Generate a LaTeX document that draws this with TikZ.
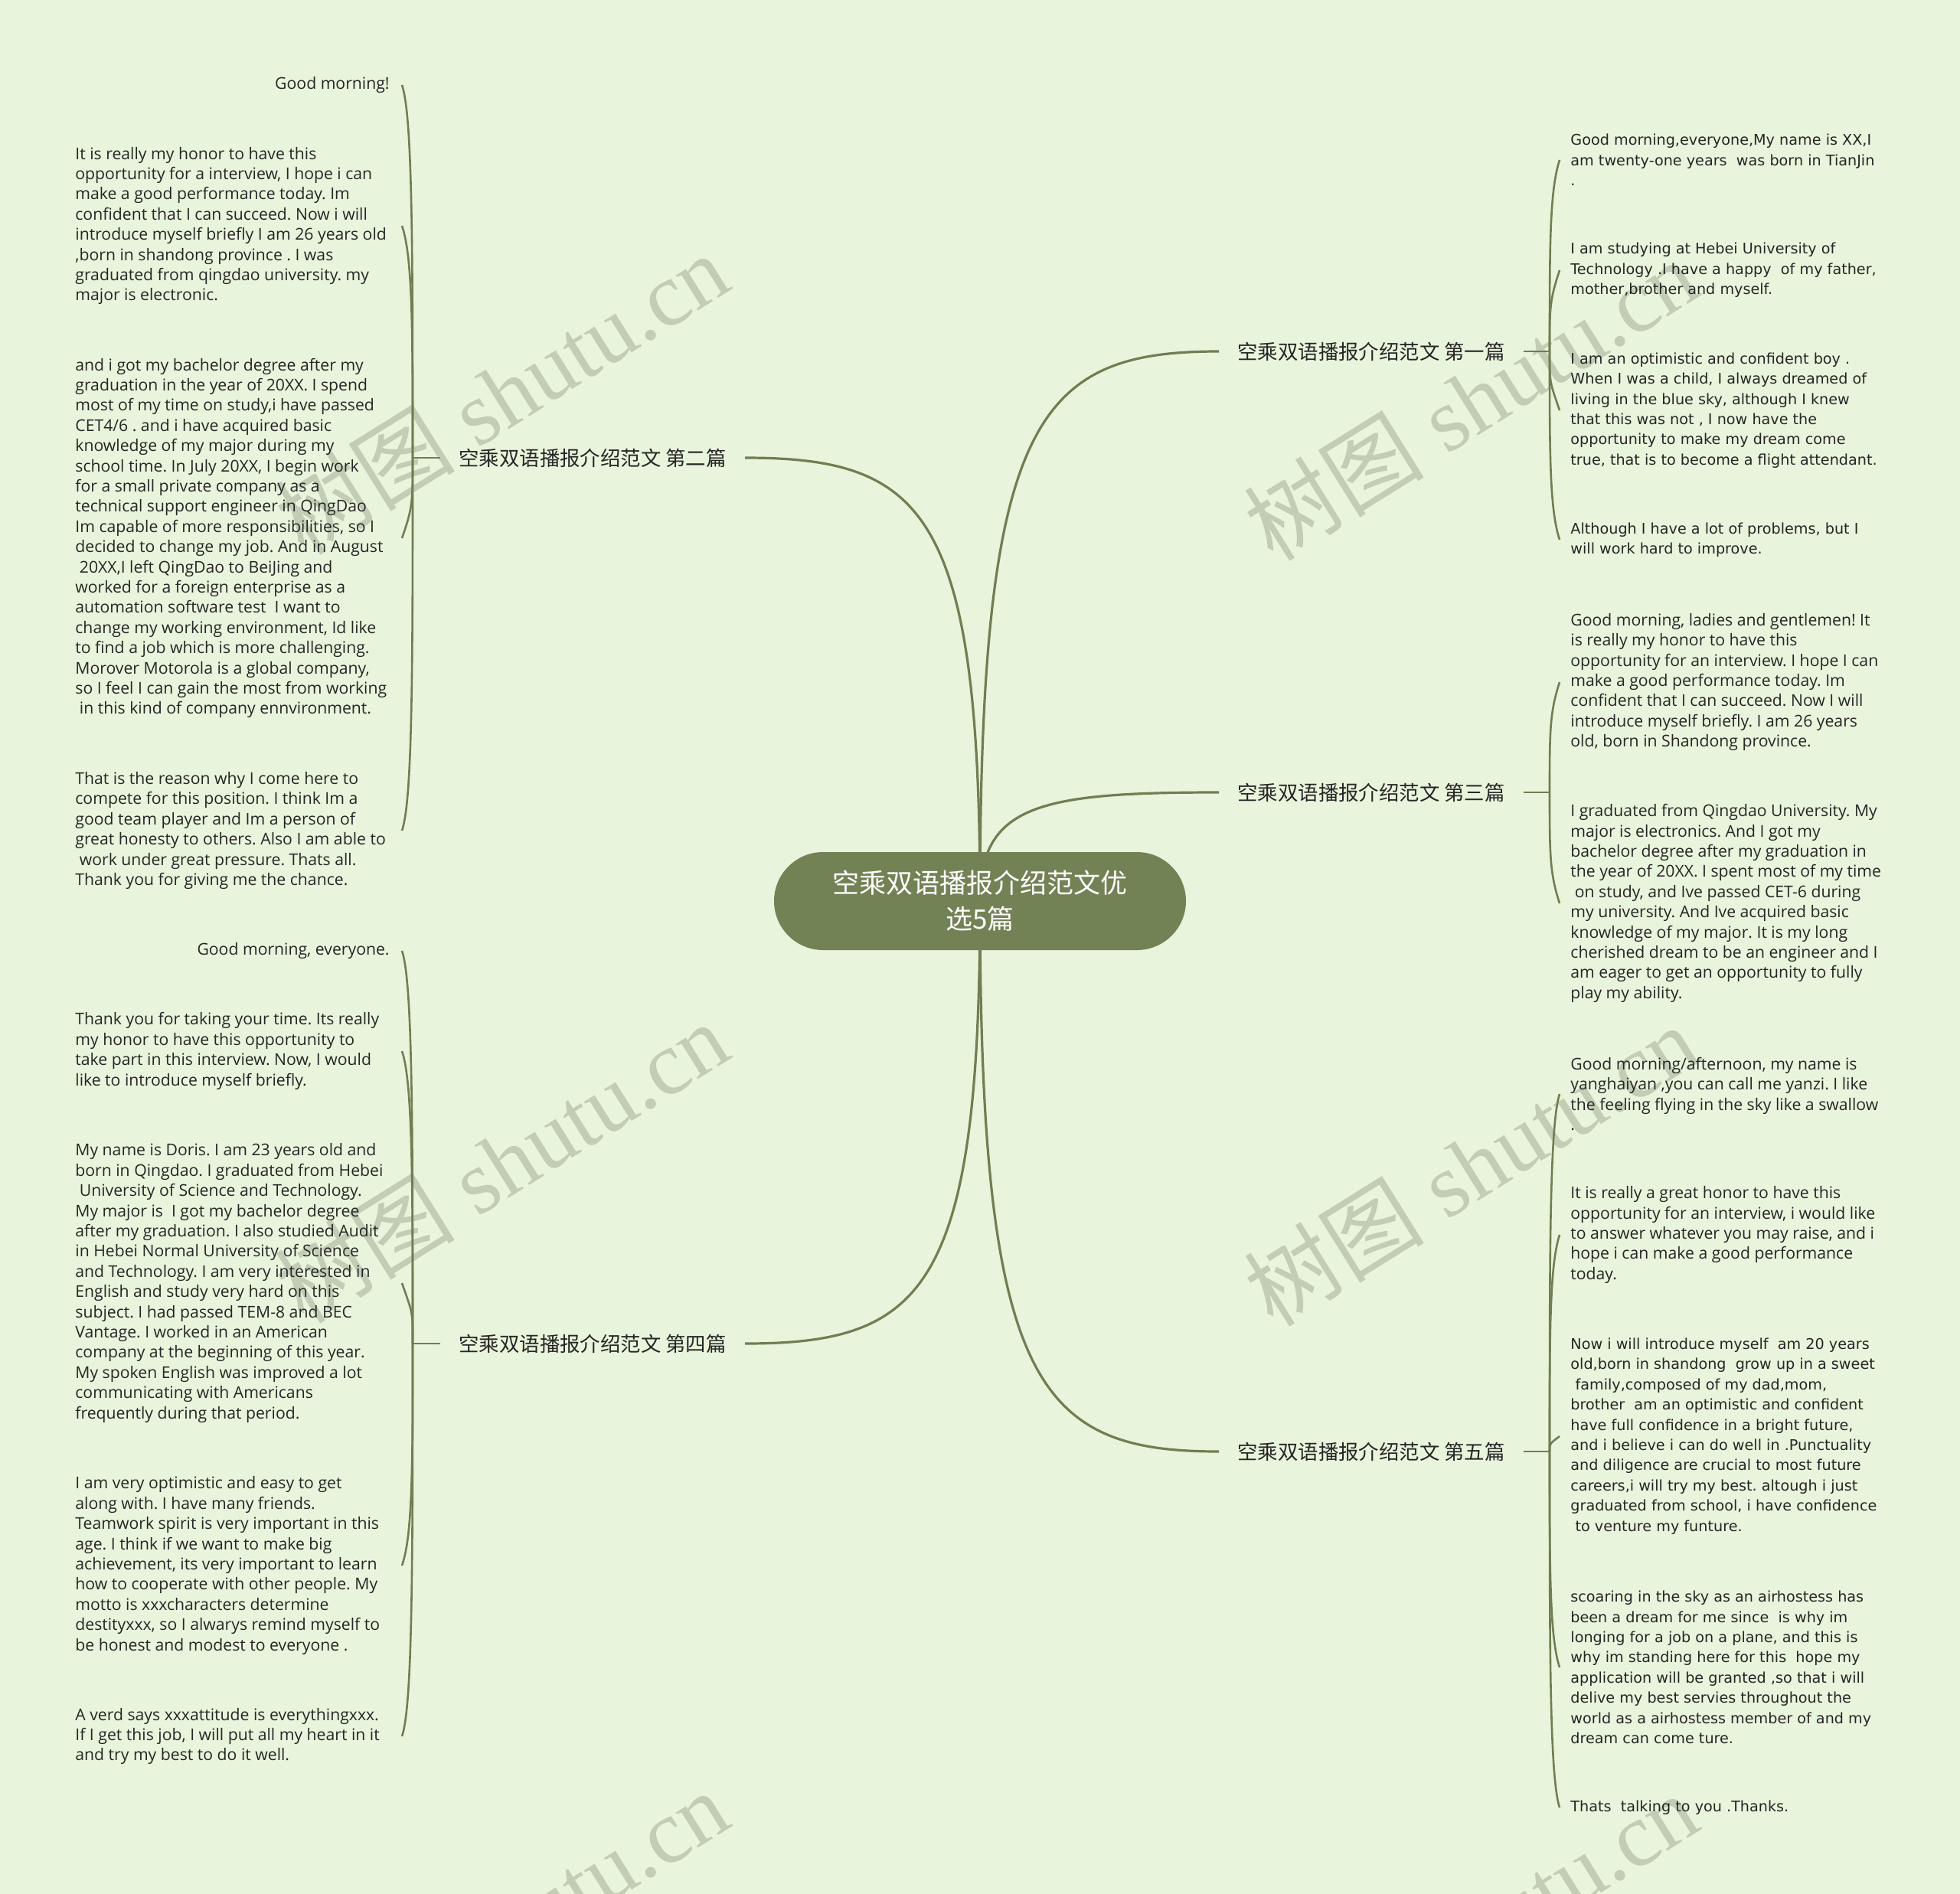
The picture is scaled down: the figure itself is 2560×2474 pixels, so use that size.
\documentclass[tikz,border=0pt]{standalone}
\usepackage{fontspec}
\setmainfont{Open Sans}
\newfontfamily\osans{Open Sans}
\newfontfamily\dvs{DejaVu Sans}
\newfontfamily\cjk{Noto Sans CJK SC}
\newfontfamily\wmser{Liberation Serif}
\definecolor{bgC}{RGB}{233,244,220}
\definecolor{lineC}{RGB}{112,126,82}
\definecolor{rootC}{RGB}{115,130,85}
\definecolor{txtC}{RGB}{38,38,38}
\definecolor{wmC}{RGB}{195,205,182}
\pgfdeclarelayer{bglayer}
\pgfdeclarelayer{linelayer}
\pgfsetlayers{bglayer,linelayer,main}
\frenchspacing
\tikzset{
  seg/.style={draw=lineC, line width=1.6pt},
  brk/.style={draw=lineC, line width=1.3pt},
  para/.style={inner sep=0pt, align=left, anchor=west, text=txtC, font=\osans\frenchspacing\fontsize{10.6}{13.2}\selectfont},
  parad/.style={para, font=\dvs\frenchspacing\fontsize{9.6}{13.2}\selectfont},
  parar/.style={para, anchor=east, align=right},
  branch/.style={inner xsep=12pt, inner ysep=4pt, text=txtC, font=\cjk\fontsize{13.2}{16}\selectfont},
  rootn/.style={fill=rootC, rounded corners=32pt, minimum width=269pt, minimum height=64pt, text=white, align=center, inner sep=0pt, font=\cjk\fontsize{17.5}{23.5}\selectfont},
  wm/.style={text=wmC, rotate=32, inner sep=0pt, font=\fontsize{59}{59}\selectfont}
}
\begin{document}
\begin{tikzpicture}[x=0.5pt,y=-0.5pt]
\begin{pgfonlayer}{bglayer}
\path[fill=bgC] (0,0) rectangle (2560,2474);
\begin{scope}
\clip (0,0) rectangle (2560,2474);
\node[wm] (wm1) at (655,514) {{\cjk 树图} {\wmser shutu.cn}};
\node[wm] (wm2) at (1921,522) {{\cjk 树图} {\wmser shutu.cn}};
\node[wm] (wm3) at (655,1518) {{\cjk 树图} {\wmser shutu.cn}};
\node[wm] (wm4) at (1921,1522) {{\cjk 树图} {\wmser shutu.cn}};
\node[wm] (wm5) at (655,2522) {{\cjk 树图} {\wmser shutu.cn}};
\node[wm] (wm6) at (1921,2526) {{\cjk 树图} {\wmser shutu.cn}};
\end{scope}
\end{pgfonlayer}

% root
\node[rootn] (root) at (1280,1177) {空乘双语播报介绍范文优\\选5篇};

% branches
\node[branch, anchor=west] (b1) at (1592,459) {空乘双语播报介绍范文 第一篇};
\node[branch, anchor=east] (b2) at (973,598) {空乘双语播报介绍范文 第二篇};
\node[branch, anchor=west] (b3) at (1592,1035) {空乘双语播报介绍范文 第三篇};
\node[branch, anchor=east] (b4) at (973,1755) {空乘双语播报介绍范文 第四篇};
\node[branch, anchor=west] (b5) at (1592,1896) {空乘双语播报介绍范文 第五篇};

\coordinate (s1) at (2024,459);
\coordinate (s2) at (539,598);
\coordinate (s3) at (2024,1035);
\coordinate (s4) at (539,1755);
\coordinate (s5) at (2024,1896);

% left: branch 2
\node[parar] (l21) at (509,111) {Good morning!};
\node[para] (l22) at (98,295) {It is really my honor to have this\\
opportunity for a interview, I hope i can\\
make a good performance today. Im\\
confident that I can succeed. Now i will\\
introduce myself briefly I am 26 years old\\
,born in shandong province . I was\\
graduated from qingdao university. my\\
major is electronic.};
\node[para] (l23) at (98,703) {and i got my bachelor degree after my\\
graduation in the year of 20XX. I spend\\
most of my time on study,i have passed\\
CET4/6 . and i have acquired basic\\
knowledge of my major during my\\
school time. In July 20XX, I begin work\\
for a small private company as a\\
technical support engineer in QingDao\\
Im capable of more responsibilities, so I\\
decided to change my job. And in August\\
~20XX,I left QingDao to BeiJing and\\
worked for a foreign enterprise as a\\
automation software test~ I want to\\
change my working environment, Id like\\
to find a job which is more challenging.\\
Morover Motorola is a global company,\\
so I feel I can gain the most from working\\
~in this kind of company ennvironment.};
\node[para] (l24) at (98,1085) {That is the reason why I come here to\\
compete for this position. I think Im a\\
good team player and Im a person of\\
great honesty to others. Also I am able to\\
~work under great pressure. Thats all.\\
Thank you for giving me the chance.};

% left: branch 4
\node[parar] (l41) at (509,1242) {Good morning, everyone.};
\node[para] (l42) at (98,1373) {Thank you for taking your time. Its really\\
my honor to have this opportunity to\\
take part in this interview. Now, I would\\
like to introduce myself briefly.};
\node[para] (l43) at (98,1676) {My name is Doris. I am 23 years old and\\
born in Qingdao. I graduated from Hebei\\
~University of Science and Technology.\\
My major is~ I got my bachelor degree\\
after my graduation. I also studied Audit\\
in Hebei Normal University of Science\\
and Technology. I am very interested in\\
English and study very hard on this\\
subject. I had passed TEM-8 and BEC\\
Vantage. I worked in an American\\
company at the beginning of this year.\\
My spoken English was improved a lot\\
communicating with Americans\\
frequently during that period.};
\node[para] (l44) at (98,2045) {I am very optimistic and easy to get\\
along with. I have many friends.\\
Teamwork spirit is very important in this\\
age. I think if we want to make big\\
achievement, its very important to learn\\
how to cooperate with other people. My\\
motto is xxxcharacters determine\\
destityxxx, so I alwarys remind myself to\\
be honest and modest to everyone .};
\node[para] (l45) at (98,2268) {A verd says xxxattitude is everythingxxx.\\
If I get this job, I will put all my heart in it\\
and try my best to do it well.};

% right: branch 1
\node[parad] (r11) at (2051,209) {Good morning,everyone,My name is XX,I\\
am twenty-one years~ was born in TianJin\\
.};
\node[parad] (r12) at (2051,353) {I am studying at Hebei University of\\
Technology .I have a happy~ of my father,\\
mother,brother and myself.};
\node[parad] (r13) at (2051,536) {I am an optimistic and confident boy .\\
When I was a child, I always dreamed of\\
living in the blue sky, although I knew\\
that this was not , I now have the\\
opportunity to make my dream come\\
true, that is to become a flight attendant.};
\node[parad] (r14) at (2051,705) {Although I have a lot of problems, but I\\
will work hard to improve.};

% right: branch 3
\node[para] (r31) at (2051,891) {Good morning, ladies and gentlemen! It\\
is really my honor to have this\\
opportunity for an interview. I hope I can\\
make a good performance today. Im\\
confident that I can succeed. Now I will\\
introduce myself briefly. I am 26 years\\
old, born in Shandong province.};
\node[para] (r32) at (2051,1180) {I graduated from Qingdao University. My\\
major is electronics. And I got my\\
bachelor degree after my graduation in\\
the year of 20XX. I spent most of my time\\
~on study, and Ive passed CET-6 during\\
my university. And Ive acquired basic\\
knowledge of my major. It is my long\\
cherished dream to be an engineer and I\\
am eager to get an opportunity to fully\\
play my ability.};

% right: branch 5
\node[para] (r51) at (2051,1429) {Good morning/afternoon, my name is\\
yanghaiyan ,you can call me yanzi. I like\\
the feeling flying in the sky like a swallow\\
.};
\node[para] (r52) at (2051,1613) {It is really a great honor to have this\\
opportunity for an interview, i would like\\
to answer whatever you may raise, and i\\
hope i can make a good performance\\
today.};
\node[parad] (r53) at (2051,1876) {Now i will introduce myself~ am 20 years\\
old,born in shandong~ grow up in a sweet\\
~family,composed of my dad,mom,\\
brother~ am an optimistic and confident\\
have full confidence in a bright future,\\
and i believe i can do well in .Punctuality\\
and diligence are crucial to most future\\
careers,i will try my best. altough i just\\
graduated from school, i have confidence\\
~to venture my funture.};
\node[parad] (r54) at (2051,2178) {scoaring in the sky as an airhostess has\\
been a dream for me since~ is why im\\
longing for a job on a plane, and this is\\
why im standing here for this~ hope my\\
application will be granted ,so that i will\\
delive my best servies throughout the\\
world as a airhostess member of and my\\
dream can come ture.};
\node[parad] (r55) at (2051,2361) {Thats~ talking to you .Thanks.};

\begin{pgfonlayer}{linelayer}
% root to branches
\draw[seg] (root.center) .. controls +(0,-632) and +(-237,0) .. (b1.west);
\draw[seg] (root.center) .. controls +(0,-510) and +(233,0) .. (b2.east);
\draw[seg] (root.center) .. controls +(0,-125) and +(-237,0) .. (b3.west);
\draw[seg] (root.center) .. controls +(0,509) and +(233,0) .. (b4.east);
\draw[seg] (root.center) .. controls +(0,633) and +(-237,0) .. (b5.west);
% short stems
\draw[brk] (b1.east) -- (s1);
\draw[brk] (b2.west) -- (s2);
\draw[brk] (b3.east) -- (s3);
\draw[brk] (b4.west) -- (s4);
\draw[brk] (b5.east) -- (s5);
% left brackets, branch 2
\draw[brk] (s2) .. controls +(0,-268) and +(14,40) .. ([xshift=8pt]l21.east);
\draw[brk] (s2) .. controls +(0,-167) and +(14,40) .. ([xshift=213.5pt]l22.west);
\draw[brk] (s2) .. controls +(0,58) and +(14,-40) .. ([xshift=213.5pt]l23.west);
\draw[brk] (s2) .. controls +(0,268) and +(14,-40) .. ([xshift=213.5pt]l24.west);
% left brackets, branch 4
\draw[brk] (s4) .. controls +(0,-282) and +(14,40) .. ([xshift=8pt]l41.east);
\draw[brk] (s4) .. controls +(0,-210) and +(14,40) .. ([xshift=213.5pt]l42.west);
\draw[brk] (s4) .. controls +(0,-43) and +(14,40) .. ([xshift=213.5pt]l43.west);
\draw[brk] (s4) .. controls +(0,160) and +(14,-40) .. ([xshift=213.5pt]l44.west);
\draw[brk] (s4) .. controls +(0,282) and +(14,-40) .. ([xshift=213.5pt]l45.west);
% right brackets, branch 1
\draw[brk] (s1) .. controls +(0,-138) and +(-13,40) .. ([xshift=-7pt]r11.west);
\draw[brk] (s1) .. controls +(0,-58) and +(-13,40) .. ([xshift=-7pt]r12.west);
\draw[brk] (s1) .. controls +(0,42) and +(-13,-38) .. ([xshift=-7pt]r13.west);
\draw[brk] (s1) .. controls +(0,135) and +(-13,-40) .. ([xshift=-7pt]r14.west);
% right brackets, branch 3
\draw[brk] (s3) .. controls +(0,-79) and +(-13,40) .. ([xshift=-7pt]r31.west);
\draw[brk] (s3) .. controls +(0,80) and +(-13,-40) .. ([xshift=-7pt]r32.west);
% right brackets, branch 5
\draw[brk] (s5) .. controls +(0,-257) and +(-13,40) .. ([xshift=-7pt]r51.west);
\draw[brk] (s5) .. controls +(0,-156) and +(-13,40) .. ([xshift=-7pt]r52.west);
\draw[brk] (s5) .. controls +(0,-11) and +(-13,10) .. ([xshift=-7pt]r53.west);
\draw[brk] (s5) .. controls +(0,155) and +(-13,-40) .. ([xshift=-7pt]r54.west);
\draw[brk] (s5) .. controls +(0,256) and +(-13,-40) .. ([xshift=-7pt]r55.west);
\end{pgfonlayer}
\end{tikzpicture}
\end{document}
